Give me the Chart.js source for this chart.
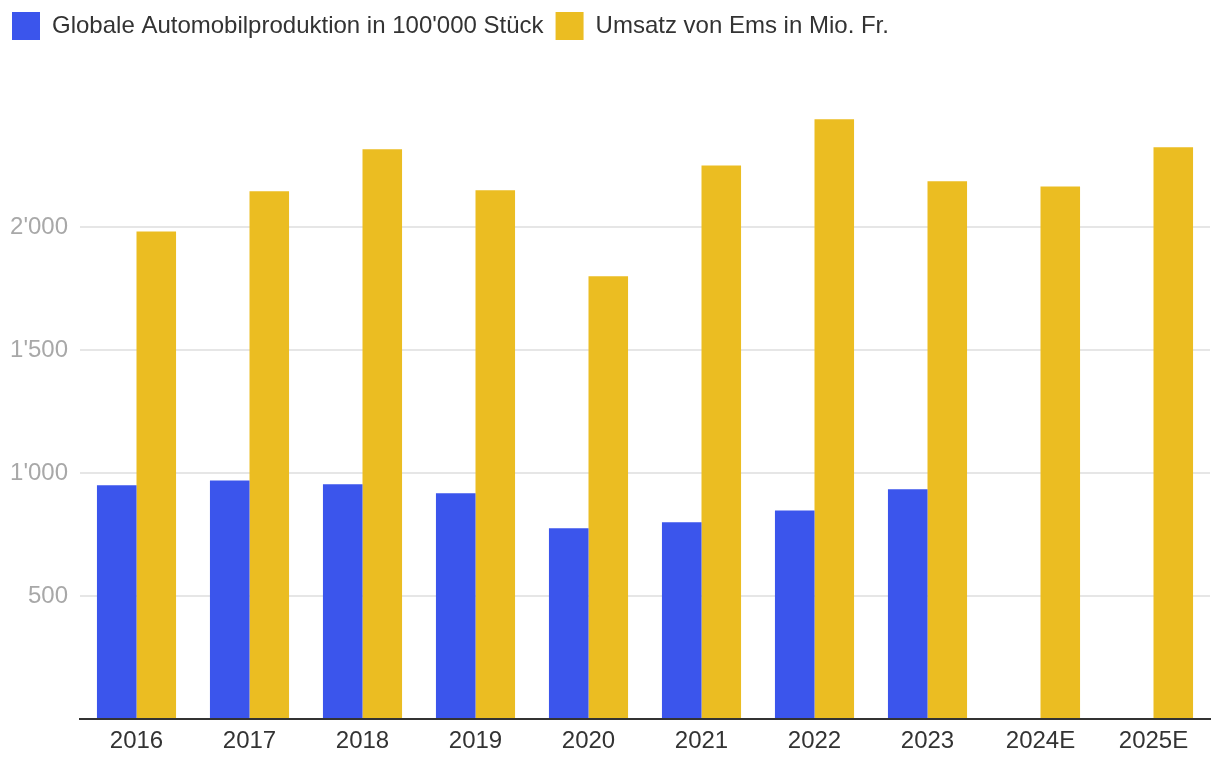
<!DOCTYPE html>
<html>
<head>
<meta charset="utf-8">
<script src="https://cdn.jsdelivr.net/npm/chart.js@4/dist/chart.umd.min.js"></script>
<style>
  html, body { margin: 0; padding: 0; background: #fff; }
  #wrap { width: 1220px; height: 770px; }
</style>
</head>
<body>
<div id="wrap"><canvas id="chart" width="1220" height="770"></canvas></div>
<script>
const years = ["2016", "2017", "2018", "2019", "2020", "2021", "2022", "2023", "2024E", "2025E"];
const autoProduktion = [950, 970, 954, 918, 775, 800, 848, 934, null, null];
const umsatzEms = [1982, 2145, 2316, 2149, 1800, 2250, 2438, 2186, 2165, 2324];
const yTicks = [500, 1000, 1500, 2000];

const BLUE = "#3b55ec";
const YELLOW = "#ebbd22";

// Zahlen mit Apostroph als Tausendertrenner
const fmt = (v) => String(v).replace(/\B(?=(\d{3})+(?!\d))/g, "'");

// Legende auf feste Hoehe bringen, damit die Plotflaeche oben bei ~104px beginnt
const legendHeight = {
  id: "legendHeight",
  beforeInit(chart) {
    const fit = chart.legend.fit;
    chart.legend.fit = function () {
      fit.call(this);
      this.height = 104;
    };
  }
};

Chart.defaults.font.family = "'Liberation Sans', Arial, Helvetica, sans-serif";

new Chart(document.getElementById("chart"), {
  type: "bar",
  data: {
    labels: years,
    datasets: [
      { label: "Globale Automobilproduktion in 100'000 Stück", data: autoProduktion, backgroundColor: BLUE, borderWidth: 0 },
      { label: "Umsatz von Ems in Mio. Fr.", data: umsatzEms, backgroundColor: YELLOW, borderWidth: 0 }
    ]
  },
  options: {
    responsive: false,
    animation: false,
    layout: { padding: { left: 0, right: 10, top: 0, bottom: 0 } },
    datasets: { bar: { barPercentage: 1, categoryPercentage: 0.7 } },
    plugins: {
      tooltip: { enabled: false },
      legend: {
        position: "top",
        align: "start",
        labels: {
          boxWidth: 28,
          boxHeight: 28,
          padding: 12,
          color: "#333",
          font: { size: 24 }
        }
      }
    },
    scales: {
      x: {
        grid: { display: false, drawTicks: false },
        border: { display: true, color: "#333", width: 2 },
        ticks: { color: "#333", font: { size: 24 }, padding: 8, maxRotation: 0 },
        afterFit: (scale) => { scale.height = 51; }
      },
      y: {
        min: 0,
        max: 2500,
        afterBuildTicks: (scale) => {
          scale.ticks = [0].concat(yTicks, [2500]).map(v => ({ value: v }));
        },
        grid: {
          drawTicks: false,
          lineWidth: 2,
          color: (ctx) => (ctx.tick && yTicks.includes(ctx.tick.value)) ? "#e6e6e6" : "rgba(0,0,0,0)"
        },
        border: { display: false },
        ticks: {
          color: "#a8a8a8",
          font: { size: 24 },
          padding: 12,
          callback: (v) => yTicks.includes(v) ? fmt(v) : ""
        },
        afterFit: (scale) => { scale.width = 80; }
      }
    }
  },
  plugins: [legendHeight]
});
</script>
</body>
</html>
